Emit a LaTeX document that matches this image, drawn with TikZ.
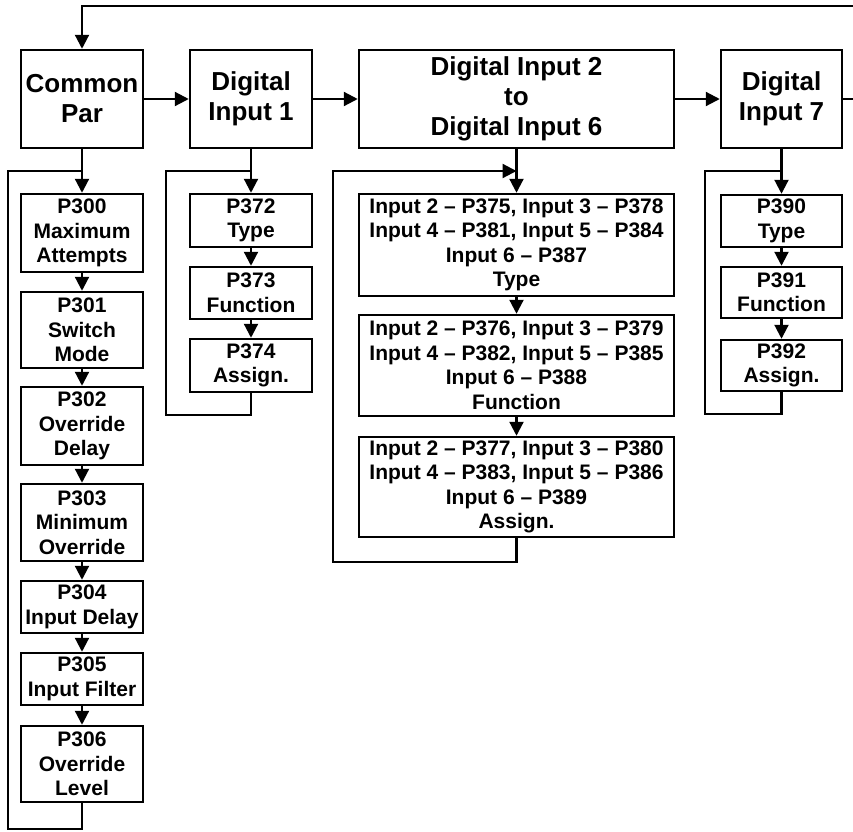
\documentclass[tikz,border=0pt]{standalone}
\usepackage{fontspec}
\setmainfont{Liberation Sans}
\usetikzlibrary{arrows.meta}
\tikzset{
  box/.style={draw, line width=2.5pt, inner sep=0pt, align=center, font=\bfseries\fontsize{21}{24.5}\selectfont},
  headbox/.style={box, minimum height=98pt, font=\bfseries\fontsize{26}{30}\selectfont},
  conn/.style={line width=2.2pt},
  arr/.style={conn, -{Triangle[length=14pt,width=14pt]}},
}
\begin{document}
\begin{tikzpicture}[x=1pt,y=-1pt]
\useasboundingbox (0,0) rectangle (853,831);
% header boxes
\node[headbox, minimum width=122pt] (cp)  at (82,99)    {Common\\Par};
\node[headbox, minimum width=122pt] (di1) at (251,99)   {Digital\\Input 1};
\node[headbox, minimum width=315pt] (di2) at (516.5,99) {Digital Input 2\\to\\Digital Input 6};
\node[headbox, minimum width=121pt] (di7) at (781.5,99) {Digital\\Input 7};
% common column
\begin{scope}[every node/.style={box, minimum width=122pt}]
\node[minimum height=78pt] (p300) at (82,233)   {P300\\Maximum\\Attempts};
\node[minimum height=76pt] (p301) at (82,330)   {P301\\Switch\\Mode};
\node[minimum height=78pt] (p302) at (82,426)   {P302\\Override\\Delay};
\node[minimum height=77pt] (p303) at (82,522.5) {P303\\Minimum\\Override};
\node[minimum height=52pt] (p304) at (82,607)   {P304\\Input Delay};
\node[minimum height=52pt] (p305) at (82,679)   {P305\\Input Filter};
\node[minimum height=76pt] (p306) at (82,764)   {P306\\Override\\Level};
\end{scope}
% DI1 column
\begin{scope}[every node/.style={box, minimum width=122pt}]
\node[minimum height=53pt] (p372) at (251,220.5) {P372\\Type};
\node[minimum height=52pt] (p373) at (251,293)   {P373\\Function};
\node[minimum height=53pt] (p374) at (251,365.5) {P374\\Assign.};
\end{scope}
% DI2-6 column
\begin{scope}[every node/.style={box, minimum width=315pt}]
\node[minimum height=102pt] (s1) at (516.5,245)   {Input 2 -- P375, Input 3 -- P378\\Input 4 -- P381, Input 5 -- P384\\Input 6 -- P387\\Type};
\node[minimum height=101pt] (s2) at (516.5,365.5) {Input 2 -- P376, Input 3 -- P379\\Input 4 -- P382, Input 5 -- P385\\Input 6 -- P388\\Function};
\node[minimum height=100pt] (s3) at (516.5,487)   {Input 2 -- P377, Input 3 -- P380\\Input 4 -- P383, Input 5 -- P386\\Input 6 -- P389\\Assign.};
\end{scope}
% DI7 column
\begin{scope}[every node/.style={box, minimum width=121pt}]
\node[minimum height=52pt] (p390) at (781.5,221)   {P390\\Type};
\node[minimum height=51pt] (p391) at (781.5,292.5) {P391\\Function};
\node[minimum height=51pt] (p392) at (781.5,365.5) {P392\\Assign.};
\end{scope}
% loop coordinates
\coordinate (topR) at (853,6);
\coordinate (topL) at (82,6);
\coordinate (rightEnd) at (853,99);
\coordinate (cA) at (8,171);
\coordinate (cB) at (8,829);
\coordinate (cC) at (82,829);
\coordinate (cJ) at (82,171);
\coordinate (dA) at (166,171);
\coordinate (dB) at (166,415);
\coordinate (dC) at (251,415);
\coordinate (dJ) at (251,171);
\coordinate (eA) at (333,171);
\coordinate (eB) at (333,562);
\coordinate (eC) at (516.5,562);
\coordinate (eJ) at (516.5,171);
\coordinate (fA) at (705,171);
\coordinate (fB) at (705,414);
\coordinate (fC) at (781.5,414);
\coordinate (fJ) at (781.5,171);
% top feedback
\draw[arr] (topR) -- (topL) -- (cp.north);
% horizontal chain
\draw[arr] (cp.east) -- (di1.west);
\draw[arr] (di1.east) -- (di2.west);
\draw[arr] (di2.east) -- (di7.west);
\draw[conn] (di7.east) -- (rightEnd);
% common column
\draw[arr] (cp.south) -- (p300.north);
\draw[arr] (p300.south) -- (p301.north);
\draw[arr] (p301.south) -- (p302.north);
\draw[arr] (p302.south) -- (p303.north);
\draw[arr] (p303.south) -- (p304.north);
\draw[arr] (p304.south) -- (p305.north);
\draw[arr] (p305.south) -- (p306.north);
\draw[conn] (p306.south) -- (cC) -- (cB) -- (cA) -- (cJ);
% DI1 column
\draw[arr] (di1.south) -- (p372.north);
\draw[arr] (p372.south) -- (p373.north);
\draw[arr] (p373.south) -- (p374.north);
\draw[conn] (p374.south) -- (dC) -- (dB) -- (dA) -- (dJ);
% DI2 column
\draw[arr] (di2.south) -- (s1.north);
\draw[arr] (s1.south) -- (s2.north);
\draw[arr] (s2.south) -- (s3.north);
\draw[arr] (s3.south) -- (eC) -- (eB) -- (eA) -- (eJ);
% DI7 column
\draw[arr] (di7.south) -- (p390.north);
\draw[arr] (p390.south) -- (p391.north);
\draw[arr] (p391.south) -- (p392.north);
\draw[conn] (p392.south) -- (fC) -- (fB) -- (fA) -- (fJ);
\end{tikzpicture}
\end{document}
